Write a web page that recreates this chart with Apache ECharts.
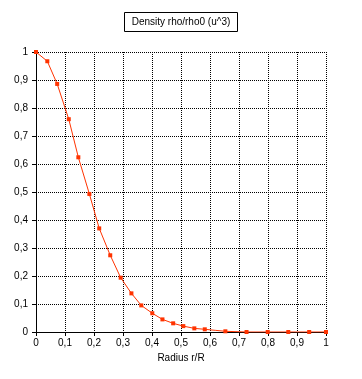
<!DOCTYPE html>
<html>
<head>
<meta charset="utf-8">
<script src="https://cdn.jsdelivr.net/npm/echarts@6/dist/echarts.min.js"></script>
<style>
html,body{margin:0;padding:0;background:#fff;}
#chart{width:362px;height:379px;}
</style>
</head>
<body>
<div id="chart"></div>
<script>
var radius = [0, 0.039, 0.073, 0.113, 0.146, 0.184, 0.218, 0.256, 0.292, 0.329, 0.363, 0.401, 0.436, 0.473, 0.508, 0.546, 0.582, 0.618, 0.653, 0.726, 0.799, 0.870, 0.942, 1.0];
var density = [1, 0.967, 0.886, 0.76, 0.624, 0.493, 0.37, 0.274, 0.194, 0.138, 0.095, 0.067, 0.045, 0.031, 0.021, 0.013, 0.0096, 0.006, 0.0025, 0, 0, 0, 0, 0];
var markerShown = [1,1,1,1,1,1,1,1,1,1,1,1,1,1,1,1,1,0,1,1,1,1,1,1];
var titleText = 'Density rho/rho0 (u^3)';
var xName = 'Radius r/R';

var data = radius.map(function(x, i){
  var item = {value: [x, density[i]]};
  if (!markerShown[i]) item.symbol = 'none';
  return item;
});
var font = 'Liberation Sans';
function fmt(v){ return String(+v.toFixed(1)).replace('.', ','); }

var chart = echarts.init(document.getElementById('chart'), null, {renderer:'canvas'});
chart.setOption({
  animation: false,
  backgroundColor: '#fff',
  title: {
    text: titleText,
    left: 'center',
    top: 12,
    borderColor: '#000',
    borderWidth: 1,
    padding: [5, 7, 4, 7],
    textStyle: {fontFamily: font, fontSize: 10, fontWeight: 'normal', color: '#000', lineHeight: 11}
  },
  grid: {left: 36, right: 36, top: 52, bottom: 47, containLabel: false},
  xAxis: {
    type: 'value', min: 0, max: 1, interval: 0.1,
    name: xName, nameLocation: 'middle', nameGap: 20,
    nameTextStyle: {fontFamily: font, fontSize: 10, color: '#000'},
    axisLine: {lineStyle: {color: '#000', width: 1}},
    axisTick: {show: true, length: 4, lineStyle: {color: '#000'}},
    axisLabel: {fontFamily: font, fontSize: 10, color: '#000', margin: 6, formatter: fmt},
    splitLine: {show: true, lineStyle: {color: '#000', type: [1, 1], width: 1}}
  },
  yAxis: {
    type: 'value', min: 0, max: 1, interval: 0.1,
    axisLine: {show: true, lineStyle: {color: '#000', width: 1}},
    axisTick: {show: true, length: 4, lineStyle: {color: '#000'}},
    axisLabel: {fontFamily: font, fontSize: 10, color: '#000', margin: 8, formatter: fmt},
    splitLine: {show: true, lineStyle: {color: '#000', type: [1, 1], width: 1}}
  },
  series: [{
    type: 'line',
    data: data,
    symbol: 'rect',
    symbolSize: 4,
    showAllSymbol: true,
    lineStyle: {color: '#ff3300', width: 1},
    itemStyle: {color: '#ff3300'}
  }]
});
</script>
</body>
</html>
